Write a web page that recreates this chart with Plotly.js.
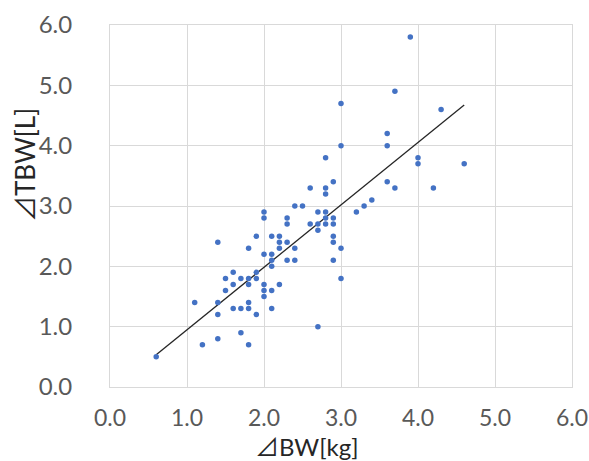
<!DOCTYPE html>
<html>
<head>
<meta charset="utf-8">
<script src="https://cdn.plot.ly/plotly-3.0.1.min.js"></script>
<style>html,body{margin:0;padding:0;background:#fff;}#chart{width:589px;height:461px;}</style>
</head>
<body>
<div id="chart"></div>
<script>
// ⊿BW [kg] values (x)
const bwValues = [
  3.9, 3.7, 3.0, 4.3, 3.6, 3.6, 3.0, 2.8, 4.0, 4.0,
  4.6, 2.9, 3.6, 2.6, 2.8, 2.8, 3.7, 4.2, 3.4, 3.3,
  3.2, 2.4, 2.5, 2.0, 2.0, 2.3, 2.3, 2.6, 2.7, 2.8,
  2.7, 2.7, 2.8, 2.8, 2.9, 2.9, 2.9, 2.9, 3.0, 2.9,
  3.0, 2.7, 1.9, 2.1, 2.2, 2.2, 2.3, 2.2, 2.4, 1.4,
  1.8, 2.0, 2.1, 2.1, 2.3, 2.4, 2.1, 1.6, 1.9, 1.5,
  1.7, 1.8, 1.9, 1.6, 1.8, 2.0, 2.2, 1.5, 2.0, 2.1,
  2.0, 1.1, 1.4, 1.8, 1.6, 1.7, 1.8, 2.1, 1.4, 1.9,
  1.7, 1.4, 1.2, 1.8, 0.6
];
// ⊿TBW [L] values (y)
const tbwValues = [
  5.8, 4.9, 4.7, 4.6, 4.2, 4.0, 4.0, 3.8, 3.8, 3.7,
  3.7, 3.4, 3.4, 3.3, 3.3, 3.2, 3.3, 3.3, 3.1, 3.0,
  2.9, 3.0, 3.0, 2.9, 2.8, 2.8, 2.7, 2.7, 2.9, 2.9,
  2.7, 2.6, 2.8, 2.7, 2.8, 2.7, 2.5, 2.4, 2.3, 2.1,
  1.8, 1.0, 2.5, 2.5, 2.5, 2.4, 2.4, 2.3, 2.3, 2.4,
  2.3, 2.2, 2.2, 2.1, 2.1, 2.1, 2.0, 1.9, 1.9, 1.8,
  1.8, 1.8, 1.8, 1.7, 1.7, 1.7, 1.7, 1.6, 1.6, 1.6,
  1.5, 1.4, 1.4, 1.4, 1.3, 1.3, 1.3, 1.3, 1.2, 1.2,
  0.9, 0.8, 0.7, 0.7, 0.5
];
const tickValues = [0, 1, 2, 3, 4, 5, 6];
const tickLabels = ['0.0', '1.0', '2.0', '3.0', '4.0', '5.0', '6.0'];
const xTitle = '⊿BW[kg]';
const yTitle = '⊿TBW[L]';

// Linear least-squares trendline (as Excel's linear trendline)
const n = bwValues.length;
let sx = 0, sy = 0, sxx = 0, sxy = 0;
for (let i = 0; i < n; i++) {
  sx += bwValues[i]; sy += tbwValues[i];
  sxx += bwValues[i] * bwValues[i]; sxy += bwValues[i] * tbwValues[i];
}
const slope = (n * sxy - sx * sy) / (n * sxx - sx * sx);
const intercept = (sy - slope * sx) / n;
const xMin = Math.min(...bwValues), xMax = Math.max(...bwValues);
const trendX = [xMin, xMax];
const trendY = trendX.map(v => intercept + slope * v);

const FONT = 'Lato, "Open Sans", sans-serif';
const TITLE_FONT = 'Lato, "Noto Sans CJK JP", sans-serif';
const traces = [
  {
    x: trendX, y: trendY, type: 'scatter', mode: 'lines',
    line: {color: '#262626', width: 1.3}, hoverinfo: 'skip', showlegend: false
  },
  {
    x: bwValues, y: tbwValues, type: 'scatter', mode: 'markers',
    marker: {color: '#4472C4', size: 5.5}, showlegend: false
  }
];

const axisCommon = {
  range: [0, 6], tickvals: tickValues, ticktext: tickLabels,
  showgrid: true, gridcolor: '#D9D9D9', gridwidth: 1,
  zeroline: false, showline: true, linecolor: '#D9D9D9', linewidth: 1, mirror: true,
  ticks: '', tickfont: {family: FONT, size: 24, color: '#595959'}, fixedrange: true
};

const layout = {
  width: 589, height: 461,
  margin: {l: 110, r: 17, t: 25, b: 74},
  paper_bgcolor: '#fff', plot_bgcolor: '#fff',
  font: {family: FONT},
  xaxis: Object.assign({}, axisCommon, {ticklabelstandoff: 10, tickfont: {family: FONT, size: 23, color: '#595959'}}),
  yaxis: Object.assign({}, axisCommon, {ticklabelstandoff: 32}),
  annotations: [
    {text: xTitle, xref: 'paper', yref: 'paper', x: 0.426, y: -0.165,
     xanchor: 'center', yanchor: 'middle', showarrow: false,
     font: {family: TITLE_FONT, size: 24, color: '#262626'}},
    {text: yTitle, xref: 'paper', yref: 'paper', x: -0.184, y: 0.613,
     xanchor: 'center', yanchor: 'middle', showarrow: false, textangle: -90,
     font: {family: TITLE_FONT, size: 26, color: '#262626'}}
  ]
};

Plotly.newPlot('chart', traces, layout, {displayModeBar: false, staticPlot: true});
</script>
</body>
</html>
